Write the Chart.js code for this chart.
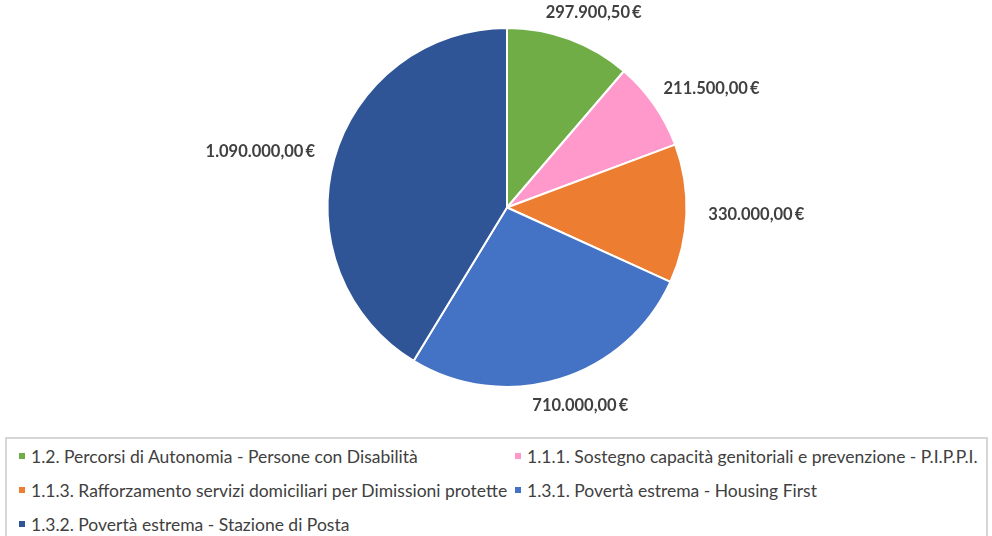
<!DOCTYPE html>
<html>
<head>
<meta charset="utf-8">
<script src="https://cdn.jsdelivr.net/npm/chart.js@4/dist/chart.umd.min.js"></script>
<style>
  html, body { margin: 0; padding: 0; background: #fff; }
  #wrap { position: absolute; left: 0; top: 0; width: 992px; height: 430px; }
  #legend {
    position: absolute; left: 5px; top: 437px; width: 983px; height: 104px;
    border: 2px solid #d6d6d6; box-sizing: border-box;
    font-family: Lato, "Open Sans", sans-serif; font-size: 17.5px; color: #404040;
    display: grid; grid-template-columns: 496px auto; grid-auto-rows: 34px;
    padding: 0 0 0 12px;
  }
  .item { display: flex; align-items: center; white-space: nowrap; }
  .sw { width: 6px; height: 6px; margin-right: 6px; flex: none; }
</style>
</head>
<body>
<div id="wrap"><canvas id="myChart"></canvas></div>
<div id="legend"></div>
<script>
const labels = [
  '1.2. Percorsi di Autonomia - Persone con Disabilità',
  '1.1.1. Sostegno capacità genitoriali e prevenzione - P.I.P.P.I.',
  '1.1.3. Rafforzamento servizi domiciliari per Dimissioni protette',
  '1.3.1. Povertà estrema - Housing First',
  '1.3.2. Povertà estrema - Stazione di Posta'
];
const values = [297900.50, 211500, 330000, 710000, 1090000];
const colors = ['#70ad47', '#ff99cc', '#ed7d31', '#4472c4', '#2f5597'];

function euro(v) {
  const parts = v.toFixed(2).split('.');
  const intPart = parts[0].replace(/\B(?=(\d{3})+(?!\d))/g, '.');
  return intPart + ',' + parts[1] + '\u2009€';
}

// labels outside each slice
const outLabels = {
  id: 'outLabels',
  afterDatasetsDraw(chart) {
    const ctx = chart.ctx;
    const meta = chart.getDatasetMeta(0);
    ctx.save();
    ctx.font = 'bold 16.5px Lato, "Open Sans", sans-serif';
    ctx.fillStyle = '#404040';
    ctx.textAlign = 'center';
    ctx.textBaseline = 'middle';
    meta.data.forEach((arc, i) => {
      const p = arc.getProps(['x', 'y', 'startAngle', 'endAngle', 'outerRadius'], true);
      const mid = (p.startAngle + p.endAngle) / 2;
      const r = p.outerRadius + 22;
      const cx = Math.cos(mid), sy = Math.sin(mid);
      const txt = euro(values[i]);
      const w = ctx.measureText(txt).width;
      const x = p.x + r * cx + cx * w / 2;
      const y = p.y + r * sy + sy * 6;
      ctx.fillText(txt, x, y);
    });
    ctx.restore();
  }
};

const ctx = document.getElementById('myChart').getContext('2d');
const myChart = new Chart(ctx, {
    type: 'pie',
    data: {
        labels: labels,
        datasets: [{
            data: values,
            backgroundColor: colors,
            borderColor: '#ffffff',
            borderWidth: 2
        }]
    },
    options: {
        responsive: true,
        maintainAspectRatio: false,
        animation: false,
        layout: { padding: { top: 27, bottom: 42, left: 22, right: 0 } },
        plugins: {
            legend: { display: false },
            tooltip: { enabled: false }
        }
    },
    plugins: [outLabels]
});

const leg = document.getElementById('legend');
labels.forEach((l, i) => {
    const d = document.createElement('div');
    d.className = 'item';
    d.innerHTML = '<span class="sw" style="background:' + colors[i] + '"></span>' + l;
    leg.appendChild(d);
});
</script>
</body>
</html>
